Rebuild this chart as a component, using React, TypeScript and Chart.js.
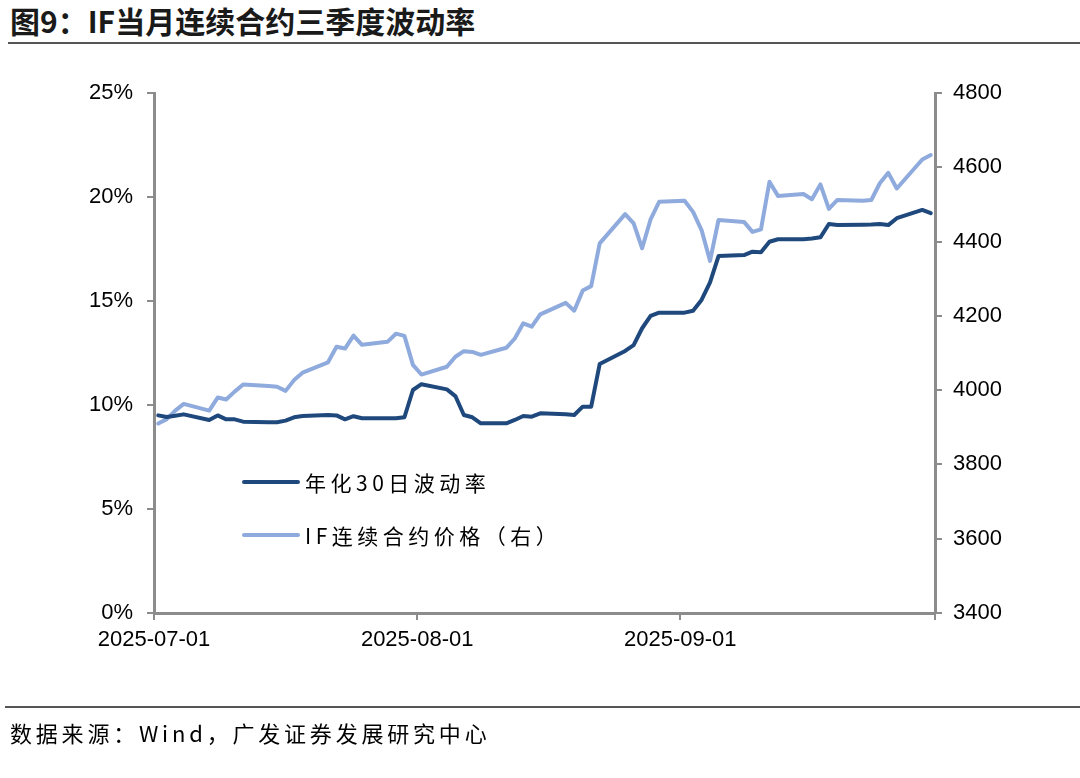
import React, { useEffect, useRef } from "react";
import { Chart, registerables } from "chart.js";

Chart.register(...registerables);

const DATES = [
  "2025-07-01","2025-07-02","2025-07-03","2025-07-04","2025-07-07","2025-07-08","2025-07-09","2025-07-10","2025-07-11",
  "2025-07-14","2025-07-15","2025-07-16","2025-07-17","2025-07-18","2025-07-21","2025-07-22","2025-07-23","2025-07-24","2025-07-25",
  "2025-07-28","2025-07-29","2025-07-30","2025-07-31",
  "2025-08-01","2025-08-04","2025-08-05","2025-08-06","2025-08-07","2025-08-08","2025-08-11","2025-08-12","2025-08-13","2025-08-14","2025-08-15",
  "2025-08-18","2025-08-19","2025-08-20","2025-08-21","2025-08-22","2025-08-25","2025-08-26","2025-08-27","2025-08-28","2025-08-29",
  "2025-09-01","2025-09-02","2025-09-03","2025-09-04","2025-09-05","2025-09-08","2025-09-09","2025-09-10","2025-09-11","2025-09-12",
  "2025-09-15","2025-09-16","2025-09-17","2025-09-18","2025-09-19","2025-09-22","2025-09-23","2025-09-24","2025-09-25","2025-09-26",
  "2025-09-29","2025-09-30",
];

const VOL = [
  9.5, 9.42, 9.48, 9.55, 9.28, 9.5, 9.31, 9.31, 9.2,
  9.17, 9.17, 9.25, 9.41, 9.47, 9.52, 9.5, 9.31, 9.46, 9.36,
  9.36, 9.36, 9.41, 10.72,
  11.0, 10.75, 10.43, 9.52, 9.41, 9.12, 9.12, 9.28, 9.47, 9.44, 9.6,
  9.55, 9.52, 9.92, 9.92, 11.97, 12.6, 12.88, 13.69, 14.28, 14.44,
  14.44, 14.53, 15.05, 15.9, 17.16, 17.21, 17.37, 17.34, 17.85, 17.97,
  17.97, 18.0, 18.06, 18.7, 18.65, 18.67, 18.68, 18.7, 18.65, 18.98,
  19.38, 19.22,
];

const PRICE = [
  3910, 3922, 3945, 3963, 3945, 3980, 3975, 3996, 4015,
  4011, 4009, 3998, 4027, 4047, 4075, 4117, 4112, 4147, 4122,
  4130, 4152, 4146, 4068,
  4042, 4063, 4090, 4105, 4103, 4095, 4114, 4139, 4180, 4171, 4204,
  4235, 4214, 4268, 4280, 4395, 4474, 4449, 4382, 4460, 4507,
  4510, 4480, 4431, 4348, 4458, 4453, 4426, 4433, 4561, 4523,
  4528, 4514, 4554, 4488, 4512, 4510, 4512, 4557, 4585, 4543,
  4621, 4633,
];

const X_TICK_DATES = ["2025-07-01", "2025-08-01", "2025-09-01", "2025-10-01"];
const X_TICK_LABELS = ["2025-07-01", "2025-08-01", "2025-09-01", ""];
const LEFT_TICKS = [0, 5, 10, 15, 20, 25];
const RIGHT_TICKS = [3400, 3600, 3800, 4000, 4200, 4400, 4600, 4800];

const SERIES_NAMES = ["年化30日波动率", "IF连续合约价格（右）"];
const TITLE = "图9：IF当月连续合约三季度波动率";
const SOURCE = "数据来源：Wind，广发证券发展研究中心";

const DARK = "#1F497D";
const LIGHT = "#8FAADC";
const AXIS = "#8C8C8C";

const dayIndex = (s: string) => {
  const [y, m, d] = s.split("-").map(Number);
  return (Date.UTC(y, m - 1, d) - Date.UTC(2025, 6, 1)) / 86400000;
};

export default function App() {
  const ref = useRef<HTMLCanvasElement | null>(null);

  useEffect(() => {
    if (!ref.current) return;
    const tickVals = X_TICK_DATES.map(dayIndex);
    const tickFont = { family: "Liberation Sans, Arial", size: 22 };
    const chart = new Chart(ref.current, {
      type: "line",
      data: {
        datasets: [
          {
            label: SERIES_NAMES[0],
            data: DATES.map((d, i) => ({ x: dayIndex(d) + 0.5, y: VOL[i] })),
            borderColor: DARK,
            borderWidth: 4,
            pointRadius: 0,
            tension: 0,
            borderCapStyle: "round",
            borderJoinStyle: "round",
            yAxisID: "y",
          },
          {
            label: SERIES_NAMES[1],
            data: DATES.map((d, i) => ({ x: dayIndex(d) + 0.5, y: PRICE[i] })),
            borderColor: LIGHT,
            borderWidth: 4,
            pointRadius: 0,
            tension: 0,
            borderCapStyle: "round",
            borderJoinStyle: "round",
            yAxisID: "y1",
          },
        ],
      },
      options: {
        animation: false,
        responsive: false,
        events: [],
        layout: { padding: { top: 93, left: 0, right: 0, bottom: 0 } },
        plugins: { legend: { display: false }, tooltip: { enabled: false } },
        scales: {
          x: {
            type: "linear",
            min: tickVals[0],
            max: tickVals[tickVals.length - 1],
            afterBuildTicks: (s: any) => {
              s.ticks = tickVals.map((v) => ({ value: v }));
            },
            afterFit: (s: any) => {
              s.height = 778 - 613;
            },
            ticks: {
              autoSkip: false,
              maxRotation: 0,
              padding: 7,
              color: "#000",
              font: tickFont,
              callback: (v: any) => {
                const i = tickVals.indexOf(Number(v));
                return i >= 0 ? X_TICK_LABELS[i] : "";
              },
            },
            grid: { drawOnChartArea: false, drawTicks: true, tickLength: 7, color: AXIS, lineWidth: 2 },
            border: { color: AXIS, width: 3 },
          },
          y: {
            position: "left",
            min: LEFT_TICKS[0],
            max: LEFT_TICKS[LEFT_TICKS.length - 1],
            afterBuildTicks: (s: any) => {
              s.ticks = LEFT_TICKS.map((v) => ({ value: v }));
            },
            afterFit: (s: any) => {
              s.width = 154;
            },
            ticks: {
              padding: 14,
              color: "#000",
              font: tickFont,
              callback: (v: any) => `${v}%`,
            },
            grid: { drawOnChartArea: false, drawTicks: true, tickLength: 7, color: AXIS, lineWidth: 2 },
            border: { color: AXIS, width: 3 },
          },
          y1: {
            position: "right",
            min: RIGHT_TICKS[0],
            max: RIGHT_TICKS[RIGHT_TICKS.length - 1],
            afterBuildTicks: (s: any) => {
              s.ticks = RIGHT_TICKS.map((v) => ({ value: v }));
            },
            afterFit: (s: any) => {
              s.width = 1080 - 935;
            },
            ticks: {
              padding: 11,
              color: "#000",
              font: tickFont,
              callback: (v: any) => `${v}`,
            },
            grid: { drawOnChartArea: false, drawTicks: true, tickLength: 7, color: AXIS, lineWidth: 2 },
            border: { color: AXIS, width: 3 },
          },
        },
      },
    });
    return () => chart.destroy();
  }, []);

  const legendText: React.CSSProperties = {
    position: "absolute",
    left: 305,
    fontFamily: "'Noto Sans CJK SC', sans-serif",
    fontSize: 21,
    letterSpacing: 4.5,
    color: "#000",
    lineHeight: "24px",
    whiteSpace: "nowrap",
  };
  const legendLine = (color: string, top: number): React.CSSProperties => ({
    position: "absolute",
    left: 242,
    top,
    width: 58,
    height: 4,
    background: color,
    borderRadius: 2,
  });

  return (
    <div style={{ position: "fixed", left: 0, top: 0, width: 1080, height: 778, background: "#fff", overflow: "hidden" }}>
      <div
        style={{
          position: "absolute",
          left: 10,
          top: 1,
          fontFamily: "'Noto Sans CJK SC', sans-serif",
          fontWeight: 700,
          fontSize: 30,
          lineHeight: "38px",
          color: "#1a1a1a",
          whiteSpace: "nowrap",
        }}
      >
        {TITLE}
      </div>
      <div style={{ position: "absolute", left: 8, right: 0, top: 42, height: 2, background: "#555" }} />
      <canvas ref={ref} width={1080} height={778} style={{ position: "absolute", left: 0, top: 0, width: 1080, height: 778 }} />
      <div style={legendLine(DARK, 480)} />
      <div style={{ ...legendText, top: 470 }}>{SERIES_NAMES[0]}</div>
      <div style={legendLine(LIGHT, 533)} />
      <div style={{ ...legendText, top: 523 }}>{SERIES_NAMES[1]}</div>
      <div style={{ position: "absolute", left: 5, right: 0, top: 706, height: 2, background: "#555" }} />
      <div
        style={{
          position: "absolute",
          left: 10,
          top: 718,
          fontFamily: "'Noto Sans CJK SC', sans-serif",
          fontSize: 22,
          letterSpacing: 3.8,
          lineHeight: "28px",
          color: "#000",
          whiteSpace: "nowrap",
        }}
      >
        {SOURCE}
      </div>
    </div>
  );
}
